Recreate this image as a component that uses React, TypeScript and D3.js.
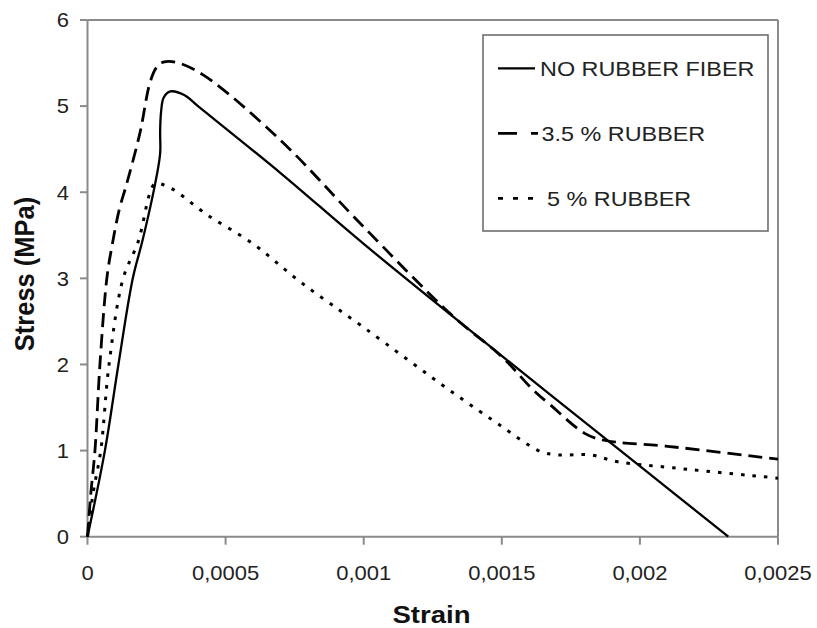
import React from "react";
import * as d3 from "d3";

const noRubberStrain = [0, 0.000063, 0.000112, 0.000164, 0.0002, 0.000245, 0.000263, 0.000263, 0.000266, 0.000276, 0.0003, 0.00035, 0.0004, 0.0007, 0.001, 0.0015, 0.002, 0.00232];
const noRubberStress = [0, 1.0, 2.0, 3.0, 3.45, 4.1, 4.45, 4.7, 4.92, 5.1, 5.17, 5.13, 5.0, 4.22, 3.4, 2.1, 0.82, 0];

const rubber35Strain = [0, 0.000012, 0.000027, 0.000045, 0.00007, 0.00009, 0.000115, 0.000142, 0.00019, 0.000226, 0.00025, 0.000274, 0.00032, 0.00042, 0.0007, 0.000987, 0.00132, 0.0015, 0.001615, 0.001676, 0.0018, 0.00187, 0.0021, 0.0025];
const rubber35Stress = [0, 0.5, 1.0, 2.0, 3.0, 3.4, 3.8, 4.1, 4.69, 5.27, 5.45, 5.51, 5.51, 5.36, 4.6, 3.64, 2.57, 2.09, 1.7, 1.53, 1.2, 1.12, 1.05, 0.9];

const rubber5Strain = [0, 0.00002, 0.000048, 0.000078, 0.000129, 0.000184, 0.000226, 0.000245, 0.0003, 0.000432, 0.0006, 0.00077, 0.001, 0.00132, 0.0015, 0.00158, 0.00164, 0.0017, 0.00182, 0.00192, 0.00212, 0.0025];
const rubber5Stress = [0, 0.5, 1.0, 2.0, 3.0, 3.43, 3.99, 4.1, 4.05, 3.74, 3.4, 2.96, 2.43, 1.68, 1.28, 1.1, 0.99, 0.95, 0.95, 0.87, 0.8, 0.68];

const legendLabels = ["NO RUBBER FIBER", "3.5 % RUBBER", "5 % RUBBER"];
const xTickValues = [0, 0.0005, 0.001, 0.0015, 0.002, 0.0025];
const xTickLabels = ["0", "0,0005", "0,001", "0,0015", "0,002", "0,0025"];
const yTickValues = [0, 1, 2, 3, 4, 5, 6];
const xTitle = "Strain";
const yTitle = "Stress (MPa)";

const FONT = "'Liberation Sans', Arial, Helvetica, sans-serif";

export default function App() {
  const x = d3.scaleLinear().domain([0, 0.0025]).range([87.5, 778]);
  const y = d3.scaleLinear().domain([0, 6]).range([536.7, 20]);

  const line = d3
    .line<[number, number]>()
    .x((d) => x(d[0]))
    .y((d) => y(d[1]))
    .curve(d3.curveCatmullRom.alpha(0.5));

  const zip = (a: number[], b: number[]) => a.map((v, i) => [v, b[i]] as [number, number]);

  const series = [
    { data: zip(noRubberStrain, noRubberStress), dash: "none", width: 2.3, legendDash: "none", textX: 540 },
    { data: zip(rubber35Strain, rubber35Stress), dash: "14,7", width: 2.8, legendDash: "19,14", textX: 541.5 },
    { data: zip(rubber5Strain, rubber5Stress), dash: "3.5,8", width: 3, legendDash: "5,10", textX: 547 },
  ];

  const axisColor = "#8a8a8a";

  return (
    <svg width={817} height={628} style={{ position: "absolute", left: 0, top: 0, background: "#fff" }}>
      <rect x={0} y={0} width={817} height={628} fill="#fff" />
      {/* frame */}
      <line x1={x(0)} x2={778} y1={20} y2={20} stroke={axisColor} strokeWidth={2} />
      <line x1={778} x2={778} y1={20} y2={y(0)} stroke={axisColor} strokeWidth={2} />
      <line x1={x(0)} x2={x(0)} y1={20} y2={y(0)} stroke={axisColor} strokeWidth={2} />
      <line x1={x(0)} x2={778} y1={y(0)} y2={y(0)} stroke={axisColor} strokeWidth={2} />
      {/* y ticks */}
      {yTickValues.map((v) => (
        <g key={"yt" + v}>
          <line x1={80} x2={x(0)} y1={y(v)} y2={y(v)} stroke={axisColor} strokeWidth={2} />
          <text
            transform={`translate(69,${y(v) + 7.3}) scale(1.1,1)`}
            textAnchor="end"
            fontFamily={FONT}
            fontSize={20}
            fill="#222"
          >
            {String(v)}
          </text>
        </g>
      ))}
      {/* x ticks */}
      {xTickValues.map((v, i) => (
        <g key={"xt" + i}>
          <line x1={x(v)} x2={x(v)} y1={y(0)} y2={y(0) + 8} stroke={axisColor} strokeWidth={2} />
          <text
            transform={`translate(${x(v)},580) scale(1.1,1)`}
            textAnchor="middle"
            fontFamily={FONT}
            fontSize={20}
            fill="#222"
          >
            {xTickLabels[i]}
          </text>
        </g>
      ))}
      {/* titles */}
      <text
        transform={`translate(431.5,623) scale(1.15,1)`}
        textAnchor="middle"
        fontFamily={FONT}
        fontWeight="bold"
        fontSize={24}
        fill="#111"
      >
        {xTitle}
      </text>
      <text
        transform={`translate(34,274) rotate(-90) scale(1,1.12)`}
        textAnchor="middle"
        fontFamily={FONT}
        fontWeight="bold"
        fontSize={25.5}
        fill="#111"
      >
        {yTitle}
      </text>
      {/* series */}
      {series.map((s, i) => (
        <path
          key={"s" + i}
          d={line(s.data) || ""}
          fill="none"
          stroke="#000"
          strokeWidth={s.width}
          strokeDasharray={s.dash}
          strokeLinejoin="round"
        />
      ))}
      {/* legend */}
      <rect x={483} y={35} width={285} height={196} fill="#fff" stroke="#6e6e6e" strokeWidth={1.6} />
      {legendLabels.map((lab, i) => (
        <g key={"lg" + i}>
          <line
            x1={498}
            x2={i === 0 ? 535 : i === 1 ? 538 : 534}
            y1={68.3 + i * 65}
            y2={68.3 + i * 65}
            stroke="#000"
            strokeWidth={i === 0 ? 2.3 : 2.8}
            strokeDasharray={series[i].legendDash}
          />
          <text
            transform={`translate(${series[i].textX},${75.5 + i * 65}) scale(1.17,1)`}
            fontFamily={FONT}
            fontSize={20}
            fill="#222"
          >
            {lab}
          </text>
        </g>
      ))}
    </svg>
  );
}
